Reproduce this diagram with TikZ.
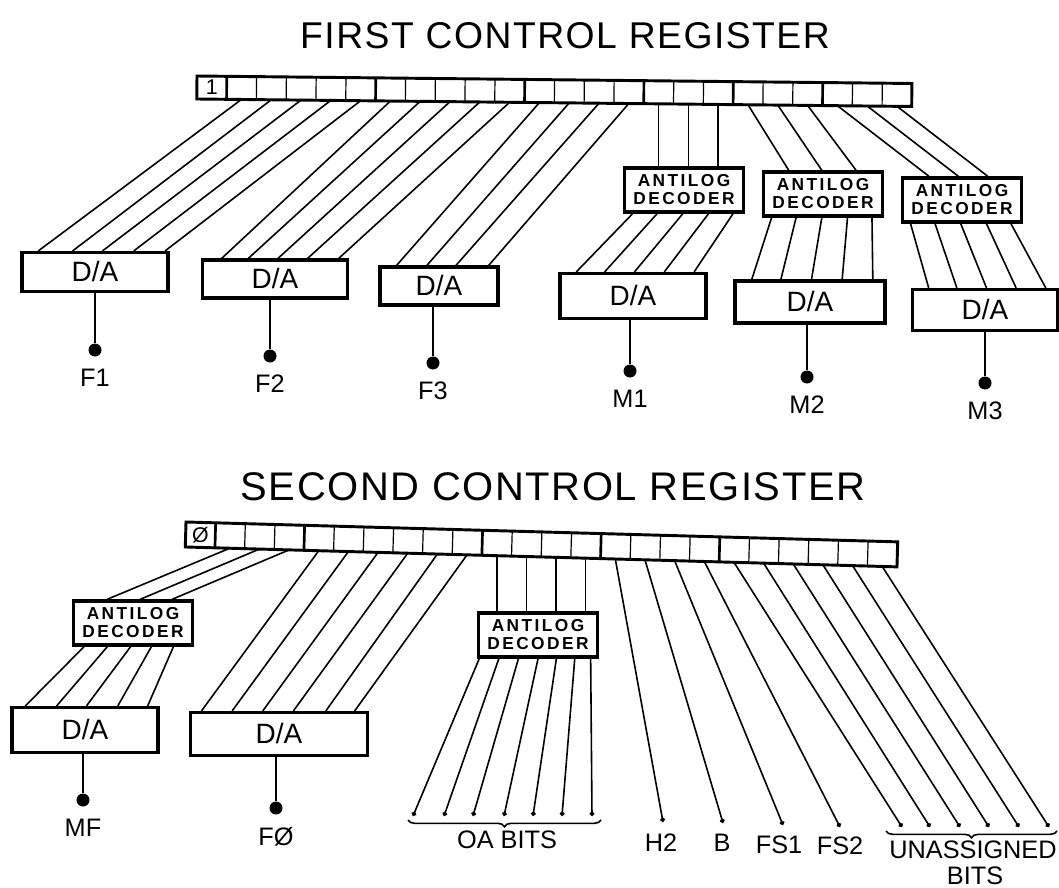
\documentclass[tikz,border=0pt]{standalone}
\usepackage{fontspec}
\setmainfont{Liberation Sans}
\usetikzlibrary{arrows.meta,positioning,decorations.pathreplacing,calc}
\def\pxu{0.0264cm}
\tikzset{
  crframe/.style={line width=2.2pt},
  crcell/.style={line width=0.9pt},
  crgroup/.style={line width=2pt},
  crcelltext/.style={font=\fontsize{16}{16}\selectfont,inner sep=0pt},
  crtitle/.style={font=\fontsize{28}{28}\selectfont\addfontfeatures{LetterSpace=4},inner sep=0pt},
  crtitlebig/.style={font=\fontsize{30}{30}\selectfont\addfontfeatures{LetterSpace=4},inner sep=0pt},
  crdabox/.style={
    draw=black, fill=white, line width=2.4pt,
    minimum height=41*\pxu, inner sep=0pt, font=\fontsize{21}{21}\selectfont
  },
  crdecoder/.style={
    draw=black, fill=white, line width=2.6pt,
    minimum width=119*\pxu, minimum height=44*\pxu, inner sep=0pt, align=center,
    font=\fontsize{13}{13.5}\selectfont\bfseries\addfontfeatures{LetterSpace=14}
  },
  crwire/.style={line width=1.2pt},
  crbit/.style={crwire,-{Circle[length=3.5pt]}},
  crdot/.style={circle,fill=black,inner sep=0pt,minimum size=13*\pxu},
  crsig/.style={font=\fontsize{19}{19}\selectfont,inner sep=1pt},
  crbrace/.style={decorate,decoration={brace,mirror,amplitude=5pt},line width=1.2pt}
}
\begin{document}
\begin{tikzpicture}[x=0.0264cm,y=-0.0264cm]
  \useasboundingbox (0,0) rectangle (1059,888);

  % First control register
  \node[crtitle] (title1) at (565,36) {FIRST CONTROL REGISTER};
  \begin{scope}[shift={(197,76)},rotate=-0.6]
    \foreach \k in {1,...,23} \draw[crcell] ({\k*29.8},0) -- ({\k*29.8},23);
    \foreach \k in {1,6,11,15,18,21} \draw[crgroup] ({\k*29.8},0) -- ({\k*29.8},23);
    \draw[crframe] (0,0) rectangle (715,23);
    \foreach \k in {0,...,23} \coordinate (ra\k) at ({(\k+0.5)*29.8},23);
    \node[crcelltext] (bitone) at (14.9,11.5) {1};
  \end{scope}

  \node[crdabox,minimum width=146*\pxu,minimum height=39*\pxu] (fa1) at (95,272) {D/A};
  \node[crdabox,minimum width=145*\pxu,minimum height=38*\pxu] (fa2) at (275,279) {D/A};
  \node[crdabox,minimum width=118*\pxu,minimum height=38*\pxu] (fa3) at (439,286) {D/A};
  \node[crdecoder] (dm1) at (684,190) {ANTILOG\\DECODER};
  \node[crdecoder] (dm2) at (823,194) {ANTILOG\\DECODER};
  \node[crdecoder] (dm3) at (962,200) {ANTILOG\\DECODER};
  \node[crdabox,minimum width=146*\pxu,minimum height=45*\pxu] (ma1) at (633,296) {D/A};
  \node[crdabox,minimum width=150*\pxu,minimum height=42*\pxu] (ma2) at (810,302) {D/A};
  \node[crdabox,minimum width=145*\pxu] (ma3) at (985,310) {D/A};

  \foreach \k/\f in {1/.12,2/.35,3/.55,4/.76,5/.97}
    \draw[crwire] (ra\k) -- ($(fa1.north west)!\f!(fa1.north east)$);
  \foreach \k/\f in {6/.14,7/.32,8/.52,9/.72,10/.93}
    \draw[crwire] (ra\k) -- ($(fa2.north west)!\f!(fa2.north east)$);
  \foreach \k/\f in {11/.15,12/.40,13/.64,14/.91}
    \draw[crwire] (ra\k) -- ($(fa3.north west)!\f!(fa3.north east)$);
  \foreach \k in {15,16,17}
    \draw[crwire] (ra\k) -- (ra\k |- dm1.north);
  \foreach \k/\f in {18/.22,19/.49,20/.77}
    \draw[crwire] (ra\k) -- ($(dm2.north west)!\f!(dm2.north east)$);
  \foreach \k/\f in {21/.23,22/.47,23/.71}
    \draw[crwire] (ra\k) -- ($(dm3.north west)!\f!(dm3.north east)$);
  \foreach \d/\m in {dm1/ma1,dm2/ma2,dm3/ma3}
    \foreach \f/\g in {.08/.12,.28/.31,.49/.51,.70/.71,.90/.91}
      \draw[crwire] ($(\d.south west)!\f!(\d.south east)$) -- ($(\m.north west)!\g!(\m.north east)$);

  \node[crdot] (f1dot) at (95,350) {};
  \node[crdot] (f2dot) at (270,356) {};
  \node[crdot] (f3dot) at (433,363) {};
  \node[crdot] (m1dot) at (630,371) {};
  \node[crdot] (m2dot) at (807,377) {};
  \node[crdot] (m3dot) at (985,383) {};
  \draw[crwire] (f1dot |- fa1.south) -- (f1dot);
  \draw[crwire] (f2dot |- fa2.south) -- (f2dot);
  \draw[crwire] (f3dot |- fa3.south) -- (f3dot);
  \draw[crwire] (m1dot |- ma1.south) -- (m1dot);
  \draw[crwire] (m2dot |- ma2.south) -- (m2dot);
  \draw[crwire] (m3dot |- ma3.south) -- (m3dot);
  \node[crsig,below=8pt of f1dot] (f1lab) {F1};
  \node[crsig,below=8pt of f2dot] (f2lab) {F2};
  \node[crsig,below=8pt of f3dot] (f3lab) {F3};
  \node[crsig,below=8pt of m1dot] (m1lab) {M1};
  \node[crsig,below=8pt of m2dot] (m2lab) {M2};
  \node[crsig,below=8pt of m3dot] (m3lab) {M3};

  % Second control register
  \node[crtitlebig] (title2) at (553,487) {SECOND CONTROL REGISTER};
  \begin{scope}[shift={(186,522)},rotate=-1.6]
    \foreach \k in {1,...,23} \draw[crcell] ({\k*29.67},0) -- ({\k*29.67},25);
    \foreach \k in {1,4,10,14,18} \draw[crgroup] ({\k*29.67},0) -- ({\k*29.67},25);
    \draw[crframe] (0,0) rectangle (712,25);
    \foreach \k in {0,...,23} \coordinate (rb\k) at ({(\k+0.5)*29.67},25);
    \node[crcelltext] (bitzero) at (14.8,12.5) {Ø};
  \end{scope}

  \node[crdecoder] (dmf) at (133,623) {ANTILOG\\DECODER};
  \node[crdabox,minimum width=146*\pxu,minimum height=45*\pxu] (mfa) at (85,730) {D/A};
  \node[crdabox,minimum width=177*\pxu,minimum height=43*\pxu] (f0a) at (279,734) {D/A};
  \node[crdecoder] (doa) at (538,635) {ANTILOG\\DECODER};

  \foreach \k/\f in {1/.29,2/.56,3/.82}
    \draw[crwire] (rb\k) -- ($(dmf.north west)!\f!(dmf.north east)$);
  \foreach \f/\g in {.10/.10,.29/.31,.48/.51,.65/.72,.83/.92}
    \draw[crwire] ($(dmf.south west)!\f!(dmf.south east)$) -- ($(mfa.north west)!\g!(mfa.north east)$);
  \foreach \k/\f in {4/.07,5/.24,6/.41,7/.58,8/.76,9/.92}
    \draw[crwire] (rb\k) -- ($(f0a.north west)!\f!(f0a.north east)$);
  \foreach \k in {10,11,12,13}
    \draw[crwire] (rb\k) -- (rb\k |- doa.north);
  \foreach \i/\x/\f in {1/413/.02,2/444/.18,3/473/.34,4/504/.50,5/533/.65,6/562/.80,7/592/.93} {
    \coordinate (oa\i) at (\x,816);
    \draw[crbit] ($(doa.south west)!\f!(doa.south east)$) -- (oa\i);
  }
  \foreach \k/\x/\y/\n in {14/663/822/h2,15/723/823/b,16/783/825/fs1,17/840/827/fs2} {
    \coordinate (\n) at (\x,\y);
    \draw[crbit] (rb\k) -- (\n);
  }
  \foreach \k/\x in {18/902,19/930,20/960,21/989,22/1019,23/1049} {
    \coordinate (un\k) at (\x,827);
    \draw[crbit] (rb\k) -- (un\k);
  }

  \node[crdot] (mfdot) at (83,800) {};
  \node[crdot] (f0dot) at (276,808) {};
  \draw[crwire] (mfdot |- mfa.south) -- (mfdot);
  \draw[crwire] (f0dot |- f0a.south) -- (f0dot);
  \node[crsig,below=8pt of mfdot] (mflab) {MF};
  \node[crsig,below=8pt of f0dot] (f0lab) {FØ};

  \draw[crbrace] (408,820) -- (601,820);
  \node[crsig] (oalab) at (507,840) {OA BITS};
  \node[crsig] (h2lab) at (661,843) {H2};
  \node[crsig] (blab) at (722,843) {B};
  \node[crsig] (fs1lab) at (779,845) {FS1};
  \node[crsig] (fs2lab) at (840,846) {FS2};
  \draw[crbrace] (886,831) -- (1057,831);
  \node[crsig] (unlab) at (973,850) {UNASSIGNED};
  \node[crsig] (bitslab) at (975,876) {BITS};
\end{tikzpicture}
\end{document}
